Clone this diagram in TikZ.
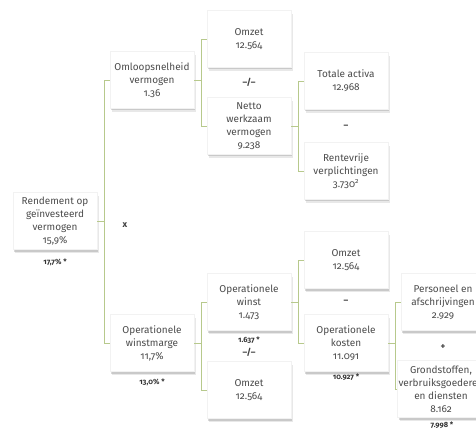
\documentclass[tikz,border=0pt]{standalone}
\usepackage{fontspec}
\setmainfont[Numbers=OldStyle]{Fira Sans}
\usetikzlibrary{shadows}
\definecolor{takgroen}{HTML}{B7C98C}
\begin{document}
\begin{tikzpicture}[x=1pt,y=-1pt,
        blok/.style={fill=white,draw=black!5,minimum width=84pt,minimum height=57pt,inner sep=1pt,align=center,text=black!70,font=\fontsize{10}{13}\selectfont,
            drop shadow={shadow xshift=2pt,shadow yshift=-3.5pt,opacity=.18},
            drop shadow={shadow xshift=1.2pt,shadow yshift=-2pt,opacity=.3}},
        noot/.style={font=\fontsize{7.5}{9}\selectfont\bfseries,text=black!80,inner sep=0pt},
        teken/.style={font=\fontsize{9}{10}\selectfont\bfseries,text=black!75,inner sep=0pt},
        tak/.style={draw=takgroen,line width=0.8pt}]
    \useasboundingbox (0,0) rectangle (476,430);
    \node[blok] (rendement) at (55,221) {Rendement op\\geïnvesteerd\\vermogen\\15,9\%};
    \node[noot] (rendementnoot) at (55,262) {17,7\% *};
    \node[teken] (maal) at (125,225) {x};
    \begin{scope}
        \node[blok] (omloop) at (152,80) {Omloopsnelheid\\vermogen\\1.36};
        \node[blok] (omzetA) at (249,39) {Omzet\\12.564};
        \node[teken] (deelA) at (249,82) {–/–};
        \node[blok] (netto) at (249,126) {Netto\\werkzaam\\vermogen\\9.238};
        \node[blok] (activa) at (346,81) {Totale activa\\12.968};
        \node[teken] (minA) at (346,127) {–};
        \node[blok] (rentevrij) at (346,171) {Rentevrije\\verplichtingen\\3.730\textsuperscript{2}};
    \end{scope}
    \begin{scope}
        \node[blok] (marge) at (152,343) {Operationele\\winstmarge\\11,7\%};
        \node[noot] (margenoot) at (152,382) {13,0\% *};
        \node[blok] (winst) at (249,302) {Operationele\\winst\\1.473};
        \node[noot] (winstnoot) at (249,340) {1.637 *};
        \node[teken] (deelB) at (249,352) {–/–};
        \node[blok] (omzetB) at (249,390) {Omzet\\12.564};
        \node[blok] (omzetC) at (346,260) {Omzet\\12.564};
        \node[teken] (minB) at (346,302) {–};
        \node[blok] (kosten) at (346,343) {Operationele\\kosten\\11.091};
        \node[noot] (kostennoot) at (346,377) {10.927 *};
        \node[blok] (personeel) at (443,302) {Personeel en\\afschrijvingen\\2.929};
        \node[teken] (plus) at (443,347) {+};
        \node[blok] (grondstof) at (441,389) {Grondstoffen,\\verbruiksgoederen\\en diensten\\8.162};
        \node[noot] (grondstofnoot) at (442,425) {7.998 *};
    \end{scope}
    \draw[tak] (rendement.east) -- ++(7,0) coordinate (splitA);
    \draw[tak] (omloop.west) -| (splitA) |- (marge.west);
    \draw[tak] (omloop.east) -- ++(7,0) coordinate (splitB);
    \draw[tak] (omzetA.west) -| (splitB) |- (netto.west);
    \draw[tak] (netto.east) -- ++(7,0) coordinate (splitC);
    \draw[tak] (activa.west) -| (splitC) |- (rentevrij.west);
    \draw[tak] (marge.east) -- ++(7,0) coordinate (splitD);
    \draw[tak] (winst.west) -| (splitD) |- (omzetB.west);
    \draw[tak] (winst.east) -- ++(7,0) coordinate (splitE);
    \draw[tak] (omzetC.west) -| (splitE) |- (kosten.west);
    \draw[tak] (kosten.east) -- ++(7,0) coordinate (splitF);
    \draw[tak] (personeel.west) -| (splitF) |- (grondstof.west);
\end{tikzpicture}
\end{document}
